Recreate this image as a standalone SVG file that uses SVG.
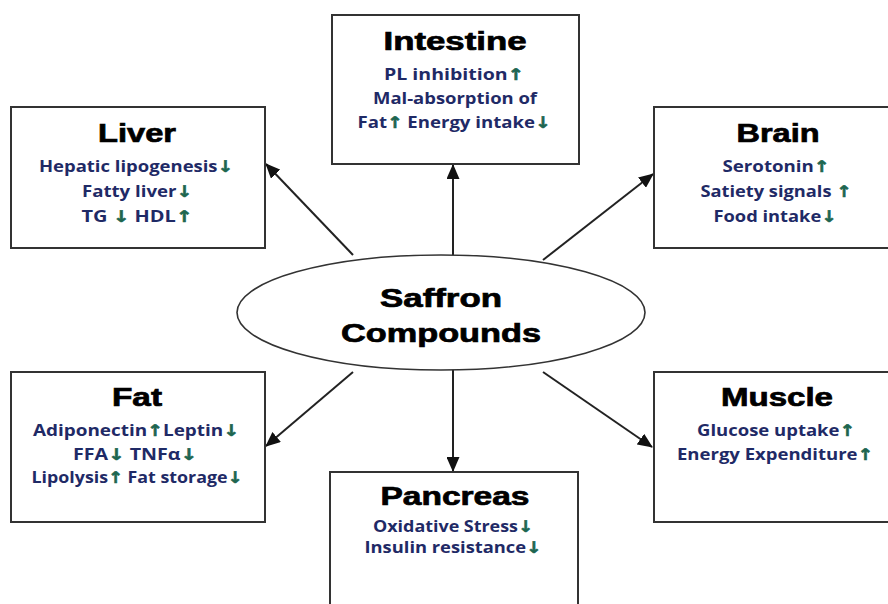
<svg xmlns="http://www.w3.org/2000/svg" width="888" height="604" viewBox="0 0 888 604">
<defs>
<marker id="ah" markerWidth="7.5" markerHeight="6.5" refX="7" refY="3.25" orient="auto" markerUnits="strokeWidth">
<path d="M0,0 L7.5,3.25 L0,6.5 Z" fill="#111"/>
</marker>
<style>
.box{fill:#fff;stroke:#333;stroke-width:2}
.ell{fill:#fff;stroke:#333;stroke-width:1.6}
.title{font-family:"Liberation Sans",Arial,sans-serif;font-weight:bold;font-size:25px;fill:#000;stroke:#000;stroke-width:0.7;text-anchor:middle}
.body{font-family:"Open Sans","DejaVu Sans",sans-serif;font-weight:bold;font-size:16px;fill:#1f2a66;text-anchor:middle}
.ar{fill:#1d6650;stroke:#1d6650;stroke-width:0.6;font-family:"DejaVu Sans",sans-serif}
.conn{stroke:#222;stroke-width:2;fill:none;marker-end:url(#ah)}
</style>
</defs>
<rect width="888" height="604" fill="#fff"/>

<g id="connectors">
<line class="conn" x1="353" y1="255" x2="266" y2="164"/>
<line class="conn" x1="453" y1="255" x2="453" y2="165"/>
<line class="conn" x1="543" y1="260" x2="653" y2="174"/>
<line class="conn" x1="353" y1="372" x2="266" y2="446"/>
<line class="conn" x1="453" y1="370" x2="453" y2="471"/>
<line class="conn" x1="543" y1="372" x2="652" y2="447"/>
</g>

<g id="liver">
<rect class="box" x="11" y="107" width="254" height="141"/>
<text class="title" x="137" y="142" textLength="78" lengthAdjust="spacingAndGlyphs">Liver</text>
<text class="body" x="136" y="172" textLength="194" lengthAdjust="spacingAndGlyphs">Hepatic lipogenesis<tspan class="ar">↓</tspan></text>
<text class="body" x="137" y="197" textLength="110" lengthAdjust="spacingAndGlyphs">Fatty liver<tspan class="ar">↓</tspan></text>
<text class="body" x="137" y="222" textLength="111" lengthAdjust="spacingAndGlyphs">TG <tspan class="ar">↓</tspan> HDL<tspan class="ar">↑</tspan></text>
</g>

<g id="intestine">
<rect class="box" x="332" y="15" width="247" height="149"/>
<text class="title" x="455" y="50" textLength="143" lengthAdjust="spacingAndGlyphs">Intestine</text>
<text class="body" x="454" y="80" textLength="140" lengthAdjust="spacingAndGlyphs">PL inhibition<tspan class="ar">↑</tspan></text>
<text class="body" x="455" y="104" textLength="164" lengthAdjust="spacingAndGlyphs">Mal-absorption of</text>
<text class="body" x="454" y="128" textLength="193" lengthAdjust="spacingAndGlyphs">Fat<tspan class="ar">↑</tspan> Energy intake<tspan class="ar">↓</tspan></text>
</g>

<g id="brain">
<rect class="box" x="654" y="107" width="250" height="141"/>
<text class="title" x="778" y="142" textLength="83" lengthAdjust="spacingAndGlyphs">Brain</text>
<text class="body" x="776" y="172" textLength="107" lengthAdjust="spacingAndGlyphs">Serotonin<tspan class="ar">↑</tspan></text>
<text class="body" x="776" y="197" textLength="151" lengthAdjust="spacingAndGlyphs">Satiety signals <tspan class="ar">↑</tspan></text>
<text class="body" x="775" y="222" textLength="123" lengthAdjust="spacingAndGlyphs">Food intake<tspan class="ar">↓</tspan></text>
</g>

<g id="center">
<ellipse class="ell" cx="441" cy="312.5" rx="204" ry="57.5"/>
<text class="title" x="441" y="307" textLength="122" lengthAdjust="spacingAndGlyphs">Saffron</text>
<text class="title" x="441" y="342" textLength="200" lengthAdjust="spacingAndGlyphs">Compounds</text>
</g>

<g id="fat">
<rect class="box" x="11" y="372" width="254" height="150"/>
<text class="title" x="137" y="406" textLength="50" lengthAdjust="spacingAndGlyphs">Fat</text>
<text class="body" x="136" y="436" textLength="206" lengthAdjust="spacingAndGlyphs">Adiponectin<tspan class="ar">↑</tspan>Leptin<tspan class="ar">↓</tspan></text>
<text class="body" x="135" y="460" textLength="124" lengthAdjust="spacingAndGlyphs">FFA<tspan class="ar">↓</tspan> TNFα<tspan class="ar">↓</tspan></text>
<text class="body" x="137" y="483" textLength="211" lengthAdjust="spacingAndGlyphs">Lipolysis<tspan class="ar">↑</tspan> Fat storage<tspan class="ar">↓</tspan></text>
</g>

<g id="pancreas">
<rect class="box" x="330" y="472" width="248" height="150"/>
<text class="title" x="455" y="505" textLength="149" lengthAdjust="spacingAndGlyphs">Pancreas</text>
<text class="body" x="453" y="532" textLength="160" lengthAdjust="spacingAndGlyphs">Oxidative Stress<tspan class="ar">↓</tspan></text>
<text class="body" x="453" y="553" textLength="177" lengthAdjust="spacingAndGlyphs">Insulin resistance<tspan class="ar">↓</tspan></text>
</g>

<g id="muscle">
<rect class="box" x="654" y="372" width="250" height="150"/>
<text class="title" x="777" y="406" textLength="112" lengthAdjust="spacingAndGlyphs">Muscle</text>
<text class="body" x="776" y="436" textLength="158" lengthAdjust="spacingAndGlyphs">Glucose uptake<tspan class="ar">↑</tspan></text>
<text class="body" x="775" y="460" textLength="196" lengthAdjust="spacingAndGlyphs">Energy Expenditure<tspan class="ar">↑</tspan></text>
</g>
</svg>
